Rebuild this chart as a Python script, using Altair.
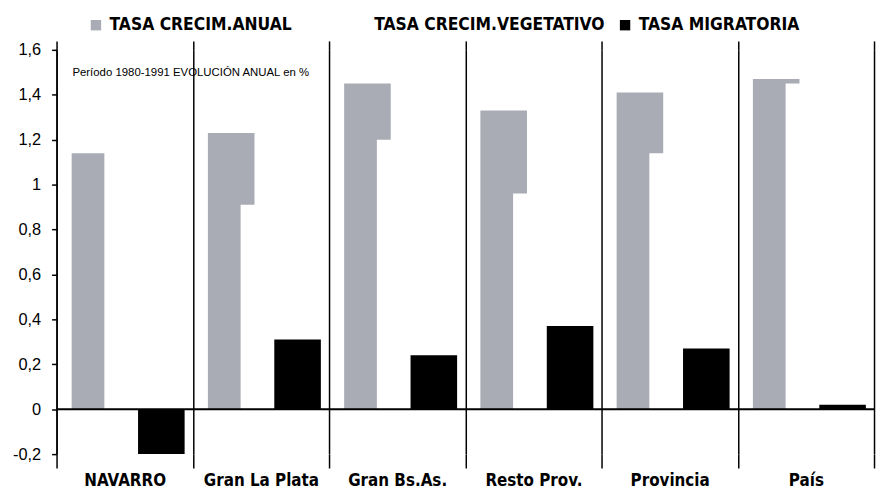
import altair as alt
import pandas as pd

categorias = ["NAVARRO", "Gran La Plata", "Gran Bs.As.", "Resto Prov.", "Provincia", "País"]
anual = [1.14, 1.23, 1.45, 1.33, 1.41, 1.47]
vegetativo = [1.34, 0.91, 1.20, 0.96, 1.14, 1.45]
migratoria = [-0.20, 0.31, 0.24, 0.37, 0.27, 0.02]
series = ["TASA CRECIM.ANUAL", "TASA CRECIM.VEGETATIVO", "TASA MIGRATORIA"]
colores = ["#a9abb5", "#ffffff", "#000000"]
y_ticks = [-0.2, 0, 0.2, 0.4, 0.6, 0.8, 1.0, 1.2, 1.4, 1.6]
nota = "Período 1980-1991 EVOLUCIÓN ANUAL en %"

rows = []
for s, vals in zip(series, [anual, vegetativo, migratoria]):
    for c, v in zip(categorias, vals):
        rows.append({"cat": c, "serie": s, "valor": v})
df = pd.DataFrame(rows)

REG = "Liberation Sans, Arial, sans-serif"
COND = "DejaVu Sans Condensed, Liberation Sans, Arial, sans-serif"

xscale = alt.Scale(paddingInner=0, paddingOuter=0)
axis_bottom = alt.Axis(
    title=None, labelAngle=0, domain=False, grid=True, gridColor="black",
    gridWidth=1.5, gridOpacity=1, tickBand="extent", tickColor="black",
    tickSize=14, tickWidth=1.5, labelFont=COND, labelFontSize=17,
    labelFontWeight="bold", labelColor="black", labelPadding=5,
)
axis_top = alt.Axis(
    orient="top", title=None, labels=False, domain=False, grid=False,
    tickBand="extent", tickColor="black", tickSize=9, tickWidth=1.5,
)
y = alt.Y(
    "valor:Q",
    scale=alt.Scale(domain=[-0.2, 1.6], nice=False, zero=False),
    axis=alt.Axis(
        values=y_ticks, title=None, grid=False, domainColor="black",
        domainWidth=1.5, tickColor="black", tickSize=5, tickWidth=1.5,
        labelExpr="replace(replace(format(datum.value, '~g'), '.', ','), '\u2212', '-')",
        labelFont=REG, labelFontSize=16.5, labelColor="black", labelPadding=11,
    ),
)
color = alt.Color(
    "serie:N",
    scale=alt.Scale(domain=series, range=colores),
    sort=series,
    legend=alt.Legend(
        orient="none", legendX=31, legendY=-34, direction="horizontal",
        columns=3, gridAlign="all",
        title=None, symbolType="square", symbolSize=110, symbolStrokeWidth=0,
        labelFont=COND, labelFontSize=17.5, labelFontWeight="bold",
        labelColor="black", columnPadding=11, labelOffset=5, labelLimit=500,
    ),
)

base = alt.Chart(df)
offsets = [-30, 3, 37]
axes = [axis_bottom, None, axis_top]
layers = []
for s, off, ax in zip(series, offsets, axes):
    layers.append(
        base.transform_filter(alt.datum.serie == s)
        .mark_bar(width=47, xOffset=off)
        .encode(x=alt.X("cat:N", sort=categorias, scale=xscale, axis=ax), y=y, color=color)
    )

zero = alt.Chart(pd.DataFrame({"v": [0]})).mark_rule(color="black", strokeWidth=2).encode(
    y=alt.Y("v:Q", scale=alt.Scale(domain=[-0.2, 1.6], nice=False, zero=False))
)
texto = alt.Chart(pd.DataFrame({"t": [nota]})).mark_text(
    align="left", baseline="middle", fontSize=11.5, font=REG, color="black"
).encode(text="t:N", x=alt.value(16), y=alt.value(23))

chart = alt.layer(*layers, zero, texto).resolve_axis(x="independent").properties(
    width=825, height=408,
    autosize=alt.AutoSizeParams(type="none"),
    padding={"left": 49, "top": 40, "right": 3, "bottom": 34},
).configure_view(stroke=None)

chart.save("out.html", embed_options={"renderer": "svg", "actions": False})
